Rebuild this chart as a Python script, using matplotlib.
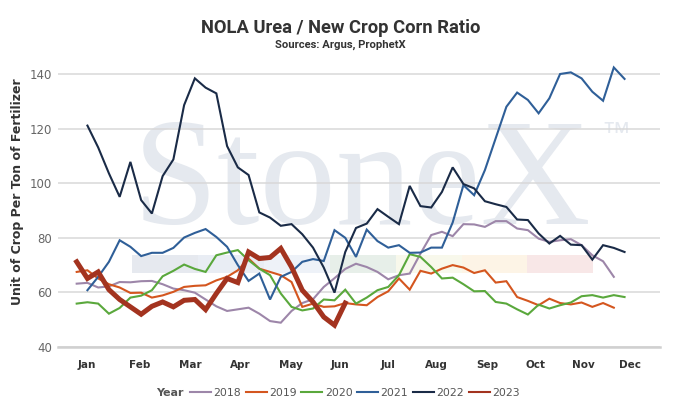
"""NOLA Urea / New Crop Corn Ratio - weekly seasonal chart"""
import matplotlib
matplotlib.use('Agg')
import matplotlib.pyplot as plt
from matplotlib.patches import Rectangle
from matplotlib.lines import Line2D

plt.rcParams['font.family'] = ['DejaVu Sans']

# 数据：每周比值（第几周开始）
years = ['2018', '2019', '2020', '2021', '2022', '2023']
start_week = {'2018': 1, '2019': 1, '2020': 1, '2021': 2, '2022': 2, '2023': 1}

ratio_2018 = [63.2, 63.5, 61.8, 62.2, 63.8, 63.7, 64.1, 64.2, 63.0, 61.4,
              60.8, 59.9, 57.4, 54.9, 53.2, 53.8, 54.4, 52.2, 49.5, 48.9,
              53.2, 56.1, 57.5, 62.0, 65.2, 68.6, 70.5, 69.3, 67.5, 64.8,
              66.3, 66.9, 74.2, 81.0, 82.2, 80.6, 85.0, 84.9, 84.0, 86.1,
              86.1, 83.4, 82.8, 79.7, 78.5, 79.1, 79.5, 77.3, 73.6, 71.4, 65.7]
ratio_2019 = [67.5, 68.1, 65.1, 63.0, 61.8, 59.8, 59.9, 58.1, 58.9, 60.2,
              62.0, 62.4, 62.6, 64.4, 65.7, 68.1, 72.4, 68.7, 67.5, 66.3,
              63.8, 54.7, 55.9, 54.7, 54.9, 56.1, 55.6, 55.3, 58.3, 60.4,
              65.1, 61.0, 67.9, 66.9, 68.7, 70.0, 69.1, 67.1, 68.1, 63.6,
              64.1, 58.3, 56.9, 55.3, 57.7, 56.1, 55.6, 56.3, 54.7, 56.1, 54.4]
ratio_2020 = [55.9, 56.4, 55.9, 52.2, 54.3, 58.1, 58.8, 60.8, 65.9, 67.9,
              70.2, 68.6, 67.5, 73.6, 74.6, 75.5, 71.8, 68.7, 66.3, 59.6,
              54.7, 53.4, 54.1, 57.4, 57.1, 61.0, 55.9, 58.1, 60.8, 62.0,
              66.3, 74.0, 73.0, 69.3, 65.1, 65.4, 63.0, 60.4, 60.5, 56.5,
              55.9, 53.8, 51.9, 55.5, 54.1, 55.3, 56.3, 58.6, 59.0, 58.1,
              59.0, 58.3]
ratio_2021 = [60.8, 65.7, 71.2, 79.1, 76.7, 73.3, 74.5, 74.5, 76.3, 80.1,
              81.8, 83.2, 80.3, 76.7, 70.0, 64.2, 66.9, 57.4, 65.7, 67.5,
              71.2, 72.2, 71.5, 82.8, 80.0, 73.0, 83.0, 78.8, 76.4, 77.3,
              74.5, 74.6, 76.4, 76.4, 85.6, 99.3, 95.6, 104.8, 116.4, 128.0,
              133.2, 130.5, 125.6, 131.1, 140.0, 140.6, 138.4, 133.5, 130.2,
              142.4, 138.2]
ratio_2022 = [121.1, 113.1, 103.6, 95.0, 107.8, 93.8, 88.9, 102.6, 108.7, 128.6,
              138.4, 135.0, 132.9, 113.6, 105.8, 103.0, 89.3, 87.4, 84.4, 85.0,
              81.3, 76.4, 69.1, 59.9, 74.8, 83.6, 85.2, 90.5, 87.7, 85.0,
              99.0, 91.6, 91.1, 96.8, 105.8, 99.7, 98.1, 93.4, 92.3, 91.3,
              86.7, 86.5, 81.6, 77.9, 80.7, 77.5, 77.3, 72.0, 77.3, 76.3, 74.8]
ratio_2023 = [71.2, 65.1, 67.5, 61.0, 57.4, 54.7, 52.0, 54.9, 56.5, 54.7,
              57.1, 57.4, 53.7, 59.6, 65.1, 63.6, 74.8, 72.4, 72.8, 76.1,
              69.3, 60.8, 56.5, 51.0, 48.0, 56.1]

months = ['Jan', 'Feb', 'Mar', 'Apr', 'May', 'Jun',
          'Jul', 'Aug', 'Sep', 'Oct', 'Nov', 'Dec']
y_ticks = [40, 60, 80, 100, 120, 140]

series = {'2018': ratio_2018, '2019': ratio_2019, '2020': ratio_2020,
          '2021': ratio_2021, '2022': ratio_2022, '2023': ratio_2023}
colors = {'2018': '#9d86a9', '2019': '#d4561f', '2020': '#5aa83c',
          '2021': '#2f5f98', '2022': '#1a2b47', '2023': '#a3331f'}
widths = {y: 1.5 for y in years}
widths['2023'] = 3.6

# 月份标签位置（以周为单位）
month_pos = [1.95, 6.85, 11.55, 16.2, 20.9, 25.5, 30.0, 34.5, 39.2, 43.7, 48.2, 52.5]

W, H = 691, 419
fig = plt.figure(figsize=(W / 100, H / 100), dpi=100)
ax = fig.add_axes([58 / W, 1 - 347 / H, 602 / W, (347 - 60.35) / H])
ax.set_xlim(-0.74, 55.3)
ax.set_ylim(40, 145)

# 水印
ax.text(133 / W, 1 - 224 / H, 'StoneX', transform=fig.transFigure,
        family=['Liberation Serif', 'DejaVu Serif'], fontsize=110,
        color='#e5e9ef', va='baseline', ha='left', zorder=0.1)
ax.text(601 / W, 1 - 134 / H, '\u2122', transform=fig.transFigure,
        family=['Liberation Sans', 'DejaVu Sans'], fontsize=21,
        color='#e5e9ef', va='center', ha='left', zorder=0.1)
strip_colors = ['#e6e9ef', '#e9edf4', '#eef2f8', '#e7efe9',
                '#f8f8eb', '#fdf4e6', '#f8e7e7']
for i, c in enumerate(strip_colors):
    ax.add_patch(Rectangle(((132 + i * 65.9) / W, 1 - 273 / H), 65.9 / W, 18 / H,
                           transform=fig.transFigure, facecolor=c,
                           edgecolor='none', zorder=0.1))

for yr in years:
    vals = series[yr]
    weeks = list(range(start_week[yr], start_week[yr] + len(vals)))
    ax.plot(weeks, vals, color=colors[yr], lw=widths[yr], zorder=2,
            solid_joinstyle='miter', clip_on=False)

ax.set_yticks(y_ticks)
ax.set_xticks(month_pos)
ax.set_xticklabels(months, fontsize=7.5, fontweight='bold', color='#333333')
ax.tick_params(axis='x', length=0, pad=9.5)
ax.tick_params(axis='y', length=0, pad=4.5, labelsize=8.5, labelcolor='#666666')
ax.yaxis.grid(True, color='#d8d8d8', lw=1.1)
ax.set_axisbelow(True)
for s in ['top', 'right', 'left']:
    ax.spines[s].set_visible(False)
ax.spines['bottom'].set_color('#d0d0d0')
ax.spines['bottom'].set_linewidth(1.8)

fig.text(18 / W, 1 - 191.5 / H, 'Unit of Crop Per Ton of Fertilizer', rotation=90,
         ha='center', va='center', fontsize=9, fontweight='bold', color='#333333')

fig.text(341 / W, 1 - 28 / H, 'NOLA Urea / New Crop Corn Ratio',
         family=['Roboto', 'DejaVu Sans'],
         ha='center', va='center', fontsize=13.2, fontweight='bold', color='#333333')
fig.text(340 / W, 1 - 45 / H, 'Sources: Argus, ProphetX',
         family=['Roboto', 'DejaVu Sans'],
         ha='center', va='center', fontsize=8.1, fontweight='bold', color='#333333')

# 图例
fig.text(156 / W, 1 - 393 / H, 'Year', ha='left', va='center',
         fontsize=8, fontweight='bold', color='#555555')
handles = [Line2D([], [], color=colors[y], lw=1.5) for y in years]
fig.legend(handles, years, loc='center left', bbox_to_anchor=(190 / W, 1 - 393 / H),
           ncol=6, frameon=False, fontsize=7.8, labelcolor='#555555',
           handlelength=1.94, handletextpad=0.23, columnspacing=0.42,
           borderaxespad=0, borderpad=0)

fig.savefig('out.png', dpi=100)
